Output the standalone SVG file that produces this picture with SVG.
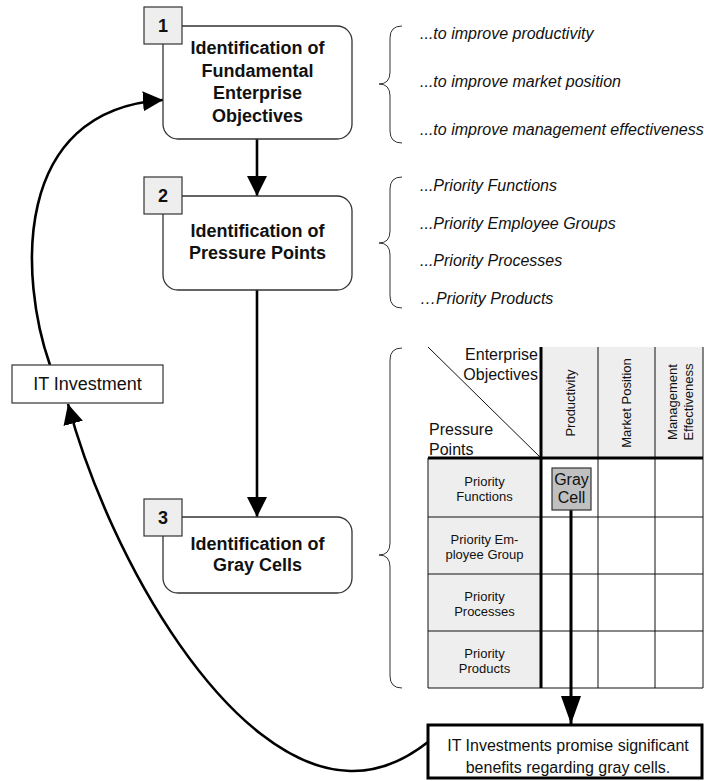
<svg xmlns="http://www.w3.org/2000/svg" width="704" height="781" viewBox="0 0 704 781">
<style>
text{font-family:"Liberation Sans",Arial,sans-serif;fill:#111}
.title{font-size:18px;font-weight:bold;text-anchor:middle}
.num{font-size:18px;font-weight:bold;text-anchor:middle}
.box{fill:#fff;stroke:#333;stroke-width:1.3}
.sq{fill:#eee;stroke:#333;stroke-width:1.2}
.it{font-size:16px;font-style:italic}
.brace{fill:none;stroke:#333;stroke-width:1}
.lbl{font-size:13px;text-anchor:middle}
.hdr{font-size:16px}
.col{font-size:13px;text-anchor:middle}
.thin{stroke:#111;stroke-width:1;fill:none}
.thick{stroke:#000;stroke-width:3;fill:none}
.conn{stroke:#000;stroke-width:2.6;fill:none}
</style>
<defs>
<marker id="ah" viewBox="0 0 20 20" refX="20" refY="10" markerWidth="20" markerHeight="20" markerUnits="userSpaceOnUse" orient="auto"><path d="M0,0 L20,10 L0,20 Z" fill="#000"/></marker>
<marker id="ahl" viewBox="0 0 28 20" refX="28" refY="10" markerWidth="28" markerHeight="20" markerUnits="userSpaceOnUse" orient="auto"><path d="M0,0 L28,10 L0,20 Z" fill="#000"/></marker>
</defs>

<g id="braces">
<path class="brace" d="M402 26 Q390 26 390 38 L390 72 Q390 84 379 84 Q390 84 390 96 L390 131 Q390 143 402 143"/>
<path class="brace" d="M402 177 Q390 177 390 189 L390 231 Q390 243 379 243 Q390 243 390 255 L390 296 Q390 308 402 308"/>
<path class="brace" d="M402 348 Q390 348 390 360 L390 543 Q390 555 379 555 Q390 555 390 567 L390 676 Q390 688 402 688"/>
</g>

<g id="objectives-text">
<text class="it" x="420" y="39">...to improve productivity</text>
<text class="it" x="420" y="87">...to improve market position</text>
<text class="it" x="420" y="135">...to improve management effectiveness</text>
</g>
<g id="pressure-text">
<text class="it" x="420" y="191">...Priority Functions</text>
<text class="it" x="420" y="229">...Priority Employee Groups</text>
<text class="it" x="420" y="266">...Priority Processes</text>
<text class="it" x="420" y="304">…Priority Products</text>
</g>

<g id="matrix">
<rect x="541" y="347" width="162" height="111" fill="#eee"/>
<rect x="428" y="458" width="113" height="230" fill="#eee"/>
<line class="thin" x1="428" y1="347" x2="541" y2="458"/>
<line class="thin" x1="598" y1="347" x2="598" y2="688"/>
<line class="thin" x1="655" y1="347" x2="655" y2="688"/>
<line class="thin" x1="703" y1="347" x2="703" y2="688"/>
<line class="thin" x1="428" y1="458" x2="428" y2="688"/>
<line class="thin" x1="428" y1="517" x2="703" y2="517"/>
<line class="thin" x1="428" y1="574" x2="703" y2="574"/>
<line class="thin" x1="428" y1="631" x2="703" y2="631"/>
<line class="thin" x1="428" y1="688" x2="703" y2="688"/>
<line class="thick" x1="428" y1="458" x2="703" y2="458"/>
<line class="thick" x1="541" y1="347" x2="541" y2="688"/>
<text class="hdr" x="538" y="360" text-anchor="end">Enterprise</text>
<text class="hdr" x="538" y="380" text-anchor="end">Objectives</text>
<text class="hdr" x="429" y="435">Pressure</text>
<text class="hdr" x="429" y="455">Points</text>
<text class="col" transform="translate(575,403) rotate(-90)">Productivity</text>
<text class="col" transform="translate(631,403) rotate(-90)">Market Position</text>
<text class="col" transform="translate(677,402) rotate(-90)">Management</text>
<text class="col" transform="translate(693,402) rotate(-90)">Effectiveness</text>
<text class="lbl" x="484.5" y="486">Priority</text>
<text class="lbl" x="484.5" y="501">Functions</text>
<text class="lbl" x="484.5" y="544">Priority Em-</text>
<text class="lbl" x="484.5" y="559">ployee Group</text>
<text class="lbl" x="484.5" y="601">Priority</text>
<text class="lbl" x="484.5" y="616">Processes</text>
<text class="lbl" x="484.5" y="658">Priority</text>
<text class="lbl" x="484.5" y="673">Products</text>
</g>

<g id="connectors">
<line class="conn" x1="257" y1="139" x2="257" y2="196" marker-end="url(#ah)"/>
<line class="conn" x1="257" y1="290" x2="257" y2="517" marker-end="url(#ah)"/>
<line class="thick" x1="571" y1="510" x2="571" y2="724" marker-end="url(#ahl)"/>
<path class="conn" d="M50 365 C20 280 10 110 163 100" marker-end="url(#ah)"/>
<path class="conn" d="M428 742 Q390 772 350 771 C230 768 110 560 68 404" marker-end="url(#ah)"/>
</g>

<g id="gray-cell">
<rect x="552" y="468" width="39" height="42" fill="#c0c0c0" stroke="#333" stroke-width="1.2"/>
<text x="571.5" y="485" font-size="16" text-anchor="middle">Gray</text>
<text x="571.5" y="503" font-size="16" text-anchor="middle">Cell</text>
</g>

<g id="node1">
<rect class="box" x="163" y="26" width="189" height="113" rx="15"/>
<rect class="sq" x="144" y="7" width="38" height="37"/>
<text class="num" x="163" y="32">1</text>
<text class="title" x="257.5" y="54">Identification of</text>
<text class="title" x="257.5" y="76.5">Fundamental</text>
<text class="title" x="257.5" y="99">Enterprise</text>
<text class="title" x="257.5" y="121.5">Objectives</text>
</g>

<g id="node2">
<rect class="box" x="163" y="196" width="189" height="94" rx="15"/>
<rect class="sq" x="144" y="177" width="38" height="37"/>
<text class="num" x="163" y="202">2</text>
<text class="title" x="257.5" y="236.5">Identification of</text>
<text class="title" x="257.5" y="259">Pressure Points</text>
</g>

<g id="node3">
<rect class="box" x="163" y="517" width="189" height="76" rx="15"/>
<rect class="sq" x="144" y="499" width="38" height="37"/>
<text class="num" x="163" y="524">3</text>
<text class="title" x="257.5" y="550">Identification of</text>
<text class="title" x="257.5" y="571">Gray Cells</text>
</g>

<g id="it-investment">
<rect x="12" y="365" width="151" height="38" fill="#fff" stroke="#333" stroke-width="1.2"/>
<text x="87.5" y="390" font-size="18" text-anchor="middle">IT Investment</text>
</g>

<g id="benefits">
<rect x="428" y="725" width="274" height="53" fill="#fff" stroke="#000" stroke-width="3"/>
<text x="568" y="751" font-size="16" text-anchor="middle">IT Investments promise significant</text>
<text x="568" y="773" font-size="16" text-anchor="middle">benefits regarding gray cells.</text>
</g>
</svg>
